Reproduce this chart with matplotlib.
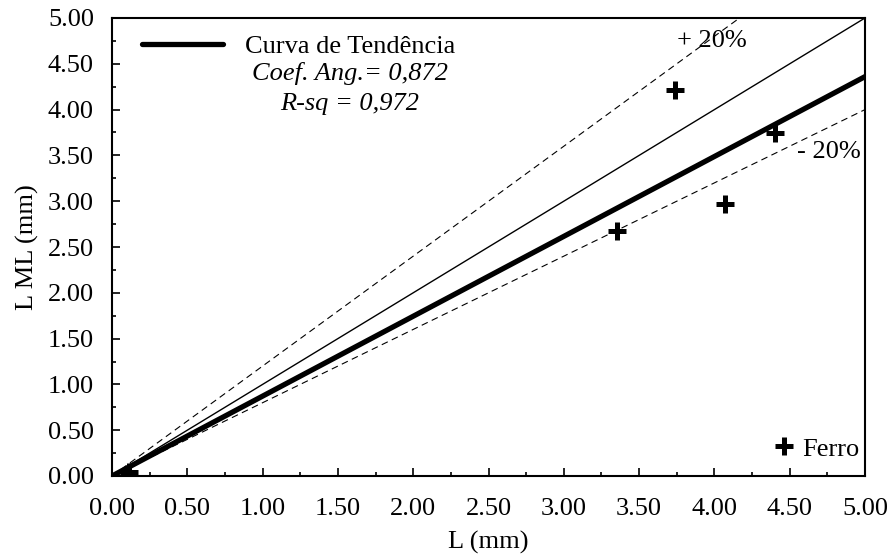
import numpy as np
import matplotlib.pyplot as plt
from matplotlib.lines import Line2D

plt.rcParams['font.family'] = ['Liberation Serif', 'DejaVu Serif']

# dados (Ferro)
L_medido = [0.11, 3.35, 3.74, 4.07, 4.40]
L_ml = [0.04, 2.67, 4.21, 2.97, 3.74]
coef_ang = 0.872
r_sq = 0.972
ticks = np.arange(0, 5.01, 0.5)
tick_labels = ['%.2f' % t for t in ticks]

fs = 19
fig = plt.figure(figsize=(8.94, 5.54), dpi=100)
ax = fig.add_axes([112/894, 1-476/554, 753/894, 458/554])

xx = np.array([0, 5])
ax.plot(xx, xx, color='black', lw=1.0)
ax.plot(xx, 1.2*xx, color='black', lw=0.8, ls=(0, (6, 4)))
ax.plot(xx, 0.8*xx, color='black', lw=0.8, ls=(0, (6, 4)))
ax.plot(xx, coef_ang*xx, color='black', lw=3.8, solid_capstyle='round')
ax.plot(L_medido, L_ml, ls='none', marker='+', ms=13, mew=3.6, color='black', zorder=5)

ax.text(3.98, 4.75, '+ 20%', fontsize=fs, ha='center', va='center')
ax.text(4.76, 3.54, '- 20%', fontsize=fs, ha='center', va='center')

h1 = [Line2D([], [], color='black', lw=3.8, solid_capstyle='round')]
leg1 = ax.legend(h1, ['Curva de Tendência'], loc='upper left', frameon=False,
                 fontsize=fs, handlelength=3.05, handletextpad=0.85,
                 bbox_to_anchor=(0.019, 0.999), borderaxespad=0.2)
ax.add_artist(leg1)
ax.text(0.316, 0.878, 'Coef. Ang.= %s' % str(coef_ang).replace('.', ','),
        transform=ax.transAxes, fontsize=fs, style='italic', ha='center', va='center')
ax.text(0.316, 0.813, 'R-sq = %s' % str(r_sq).replace('.', ','),
        transform=ax.transAxes, fontsize=fs, style='italic', ha='center', va='center')

h2 = [Line2D([], [], ls='none', marker='+', ms=13, mew=3.6, color='black')]
ax.legend(h2, ['Ferro'], loc='lower right', frameon=False, fontsize=fs,
          handlelength=0.8, handletextpad=0.3, borderpad=0.2, borderaxespad=0,
          bbox_to_anchor=(1, 0.022))

ax.set_xlim(0, 5)
ax.set_ylim(0, 5)
ax.set_xticks(ticks)
ax.set_xticklabels(tick_labels)
ax.set_yticks(ticks)
ax.set_yticklabels(tick_labels)
ax.set_xticks(np.arange(0.25, 5, 0.5), minor=True)
ax.set_yticks(np.arange(0.25, 5, 0.5), minor=True)
ax.tick_params(which='both', direction='in', labelsize=fs, width=1.2)
ax.tick_params(which='major', length=6)
ax.tick_params(which='minor', length=3)
ax.tick_params(axis='x', pad=15.5)
ax.tick_params(axis='y', pad=13)
for s in ax.spines.values():
    s.set_linewidth(1.5)

ax.set_xlabel('L (mm)', fontsize=fs, labelpad=8)
ax.set_ylabel('L ML (mm)', fontsize=fs, labelpad=6)

fig.savefig('out.png', dpi=100)
